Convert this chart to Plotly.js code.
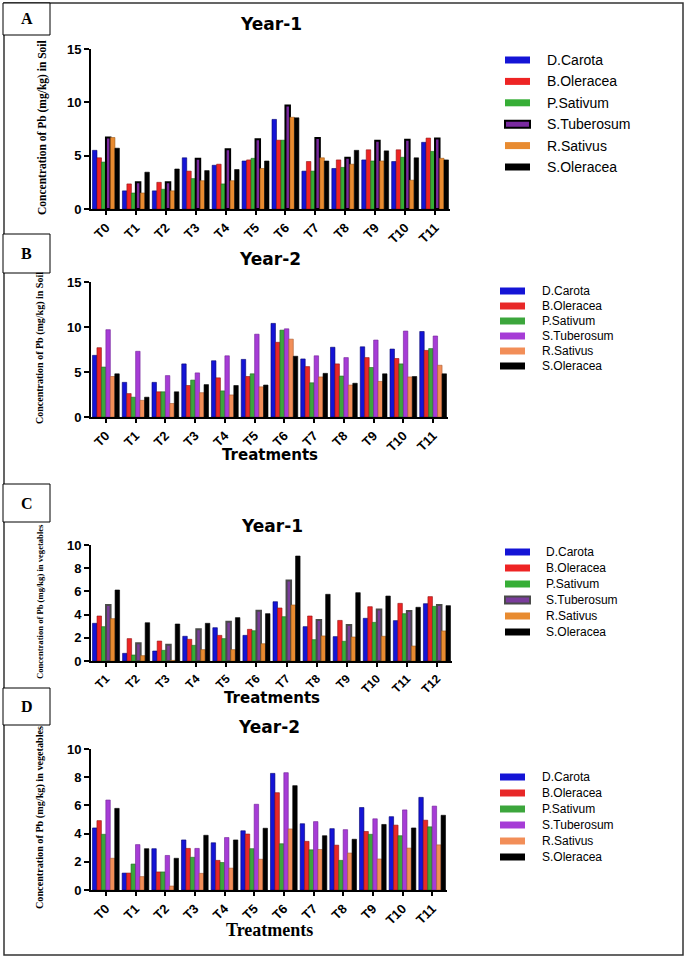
<!DOCTYPE html>
<html>
<head>
<meta charset="utf-8">
<script src="https://cdn.plot.ly/plotly-3.0.1.min.js"></script>
<style>
  html, body { margin: 0; padding: 0; background: #fff; }
  #chart { width: 685px; height: 957px; }
</style>
</head>
<body>
<div id="chart"></div>
<script>
// treatment labels
var treatmentsT0 = ["T0", "T1", "T2", "T3", "T4", "T5", "T6", "T7", "T8", "T9", "T10", "T11"]
var treatmentsT1 = ["T1", "T2", "T3", "T4", "T5", "T6", "T7", "T8", "T9", "T10", "T11", "T12"]

var speciesNames = ["D.Carota", "B.Oleracea", "P.Sativum", "S.Tuberosum", "R.Sativus", "S.Oleracea"]

// A - soil, year 1 (mg/kg)
var soil1Carota     = [5.5, 1.7, 1.7, 4.8, 4.1, 4.5, 8.4, 3.55, 3.8, 4.6, 4.45, 6.25]
var soil1Oleracea   = [4.8, 2.35, 2.5, 3.55, 4.2, 4.6, 6.45, 4.45, 4.6, 5.55, 5.55, 6.65]
var soil1Sativum    = [4.4, 1.5, 1.85, 2.85, 2.35, 4.75, 6.45, 3.55, 3.9, 4.5, 4.85, 5.4]
var soil1Tuberosum  = [6.7, 2.5, 2.5, 4.7, 5.6, 6.55, 9.7, 6.65, 4.8, 6.4, 6.5, 6.6]
var soil1Sativus    = [6.7, 1.5, 1.7, 2.65, 2.65, 3.8, 8.6, 4.8, 4.2, 4.5, 2.7, 4.75]
var soil1SOleracea  = [5.7, 3.45, 3.75, 3.6, 3.7, 4.5, 8.55, 4.5, 5.5, 5.45, 4.8, 4.6]

// B - soil, year 2
var soil2Carota     = [6.85, 3.85, 3.85, 5.9, 6.25, 6.4, 10.4, 6.45, 7.75, 7.8, 7.55, 9.5]
var soil2Oleracea   = [7.7, 2.6, 2.8, 3.5, 4.35, 4.5, 8.3, 5.6, 5.9, 6.6, 6.5, 7.4]
var soil2Sativum    = [5.55, 2.2, 2.8, 4.1, 2.9, 4.8, 9.65, 3.8, 4.55, 5.5, 5.9, 7.6]
var soil2Tuberosum  = [9.7, 7.3, 4.6, 4.9, 6.8, 9.2, 9.8, 6.8, 6.6, 8.55, 9.55, 9.0]
var soil2Sativus    = [4.5, 1.85, 1.5, 2.7, 2.45, 3.35, 8.65, 4.45, 3.55, 3.95, 4.45, 5.75]
var soil2SOleracea  = [4.8, 2.2, 2.8, 3.6, 3.5, 3.55, 6.75, 4.85, 3.75, 4.8, 4.5, 4.8]

// C - vegetables, year 1
var veg1Carota      = [3.25, 0.66, 0.86, 2.13, 2.87, 2.21, 5.11, 2.96, 2.1, 3.68, 3.48, 4.94]
var veg1Oleracea    = [3.88, 1.93, 1.72, 1.87, 2.21, 2.73, 4.57, 3.88, 3.5, 4.68, 4.97, 5.55]
var veg1Sativum     = [2.96, 0.52, 0.92, 1.35, 1.93, 2.61, 3.82, 1.84, 1.7, 3.33, 4.08, 4.71]
var veg1Tuberosum   = [4.83, 1.52, 1.41, 2.73, 3.39, 4.34, 6.93, 3.53, 3.1, 4.43, 4.31, 4.83]
var veg1Sativus     = [3.65, 0.46, 0.05, 0.98, 0.98, 1.49, 4.83, 2.16, 2.07, 2.13, 1.29, 2.59]
var veg1SOleracea   = [6.12, 3.3, 3.19, 3.25, 3.74, 4.08, 9.05, 5.75, 5.89, 5.6, 4.63, 4.77]

// D - vegetables, year 2
var veg2Carota      = [4.4, 1.2, 2.93, 3.55, 3.35, 4.2, 8.27, 4.7, 4.35, 5.85, 5.2, 6.57]
var veg2Oleracea    = [4.92, 1.2, 1.28, 2.95, 2.1, 3.97, 6.9, 3.45, 3.18, 4.15, 4.6, 4.95]
var veg2Sativum     = [3.95, 1.84, 1.28, 2.32, 1.95, 2.93, 3.28, 2.85, 2.1, 3.95, 3.85, 4.48]
var veg2Tuberosum   = [6.38, 3.22, 2.45, 2.95, 3.72, 6.08, 8.32, 4.85, 4.28, 5.05, 5.68, 5.95]
var veg2Sativus     = [2.25, 0.95, 0.28, 1.18, 1.55, 2.18, 4.33, 2.87, 2.62, 2.2, 2.97, 3.2]
var veg2SOleracea   = [5.79, 2.93, 2.25, 3.88, 3.55, 4.38, 7.4, 3.85, 3.6, 4.65, 4.4, 5.3]

// colours
var fillA = ["#1414d6", "#ee2424", "#36ae36", "#7a2aa0", "#e88b30", "#000000"]
var edgeA = ["#00006e", "#8e1010", "#1b661b", "#000000", "#9a5818", "#000000"]
var fillC = ["#1414d6", "#ee2424", "#36ae36", "#7a3c9c", "#e88b30", "#000000"]
var edgeC = ["#00006e", "#8e1010", "#1b661b", "#4a4a4a", "#9a5818", "#000000"]
var fillY2 = ["#1414d6", "#e82828", "#3ca63c", "#a63cd6", "#f28e58", "#000000"]
var edgeY2 = ["#00006e", "#8e1010", "#1b661b", "#6e2096", "#a85a30", "#000000"]

var W = 685, H = 957
function px(x) { return x / W }
function py(y) { return 1 - y / H }

var SANS = "DejaVu Sans, Arial, sans-serif"
var ARIAL = "Liberation Sans, Arial, sans-serif"
var SERIF = "Liberation Serif, Times New Roman, serif"

var panels = [
  {letter: "A", box: [3, 50, 3, 35], title: "Year-1", titleY: 24,
   cats: treatmentsT0, ymax: 15, dtick: 5, xr: [91, 450], yr: [49, 209],
   series: [soil1Carota, soil1Oleracea, soil1Sativum, soil1Tuberosum, soil1Sativus, soil1SOleracea],
   fill: fillA, edge: edgeA, tubW: 2, xTick: 13,
   yTitle: "Concentration of Pb (mg/kg) in Soil", yTitleX: 43, yTitleY: 128, yTitleSize: 11.5,
   xTitle: null,
   legend: {swatch: [505, 530], textX: 545, top: 60, step: 21.4, size: 14}},
  {letter: "B", box: [3, 50, 234, 273], title: "Year-2", titleY: 259,
   cats: treatmentsT0, ymax: 15, dtick: 5, xr: [91, 448], yr: [282, 417],
   series: [soil2Carota, soil2Oleracea, soil2Sativum, soil2Tuberosum, soil2Sativus, soil2SOleracea],
   fill: fillY2, edge: edgeY2, tubW: 0.6, xTick: 13,
   yTitle: "Concentration of Pb (mg/kg) in Soil", yTitleX: 40, yTitleY: 348, yTitleSize: 10,
   xTitle: "Treatments", xTitleY: 455, xTitleFont: SANS, xTitleSize: 15,
   legend: {swatch: [500, 525], textX: 540, top: 291, step: 15, size: 12}},
  {letter: "C", box: [3, 50, 484, 522], title: "Year-1", titleY: 526,
   cats: treatmentsT1, ymax: 10, dtick: 2, xr: [91, 452], yr: [545, 661],
   series: [veg1Carota, veg1Oleracea, veg1Sativum, veg1Tuberosum, veg1Sativus, veg1SOleracea],
   fill: fillC, edge: edgeC, tubW: 2, xTick: 12,
   yTitle: "Concentration of Pb (mg/kg) in vegetables", yTitleX: 40, yTitleY: 602, yTitleSize: 8.6,
   xTitle: "Treatments", xTitleY: 698, xTitleFont: SANS, xTitleSize: 15,
   legend: {swatch: [505, 530], textX: 544, top: 552, step: 16, size: 12}},
  {letter: "D", box: [3, 50, 688, 725], title: "Year-2", titleY: 727,
   cats: treatmentsT0, ymax: 10, dtick: 2, xr: [91, 447], yr: [749, 890],
   series: [veg2Carota, veg2Oleracea, veg2Sativum, veg2Tuberosum, veg2Sativus, veg2SOleracea],
   fill: fillY2, edge: edgeY2, tubW: 0.6, xTick: 13,
   yTitle: "Concentration of Pb (mg/kg) in vegetables", yTitleX: 40, yTitleY: 818, yTitleSize: 10.2,
   xTitle: "Treatments", xTitleY: 930, xTitleFont: SERIF, xTitleSize: 18,
   legend: {swatch: [500, 525], textX: 540, top: 777, step: 16, size: 12}}
]

var data = []
var layout = {
  width: W, height: H,
  margin: {l: 0, r: 0, t: 0, b: 0},
  paper_bgcolor: "#ffffff",
  plot_bgcolor: "rgba(0,0,0,0)",
  barmode: "group",
  bargap: 0.1,
  bargroupgap: 0,
  showlegend: false,
  font: {family: SANS, color: "#000"},
  annotations: [],
  shapes: [
    {type: "rect", xref: "paper", yref: "paper", x0: px(4), x1: px(683), y0: py(955), y1: py(3),
     line: {color: "#333", width: 1.5}}
  ]
}

panels.forEach(function(p, i) {
  var n = i === 0 ? "" : String(i + 1)

  for (var s = 0; s < speciesNames.length; s++) {
    var lw = s === 3 ? p.tubW : 0.6
    data.push({
      type: "bar",
      name: speciesNames[s],
      x: p.cats,
      y: p.series[s],
      xaxis: "x" + n,
      yaxis: "y" + n,
      marker: {color: p.fill[s], line: {color: p.edge[s], width: lw}}
    })

    // legend entry (swatch + name)
    var rowY = p.legend.top + s * p.legend.step
    var boxed = s === 3 && p.tubW > 1
    layout.shapes.push({type: "rect", xref: "paper", yref: "paper",
      x0: px(p.legend.swatch[0]), x1: px(p.legend.swatch[1]),
      y0: py(rowY + 3.5), y1: py(rowY - 3.5),
      fillcolor: p.fill[s],
      line: {color: boxed ? p.edge[s] : p.fill[s], width: boxed ? 2 : 0}})
    layout.annotations.push({xref: "paper", yref: "paper", showarrow: false,
      x: px(p.legend.textX), y: py(rowY), xanchor: "left", yanchor: "middle",
      text: speciesNames[s],
      font: {family: ARIAL, size: p.legend.size, color: "#000"}})
  }

  layout["xaxis" + n] = {
    type: "category",
    domain: [px(p.xr[0]), px(p.xr[1])],
    anchor: "y" + n,
    range: [-0.5, p.cats.length - 0.5],
    showline: true, linecolor: "#000", linewidth: 2,
    ticks: "outside", ticklen: 4, tickwidth: 2, tickcolor: "#000",
    tickangle: -45,
    tickfont: {family: ARIAL, size: p.xTick, weight: "bold", color: "#000"},
    showgrid: false, zeroline: false, fixedrange: true
  }
  layout["yaxis" + n] = {
    domain: [py(p.yr[1]), py(p.yr[0])],
    anchor: "x" + n,
    range: [0, p.ymax],
    dtick: p.dtick,
    showline: true, linecolor: "#000", linewidth: 2,
    ticks: "outside", ticklen: 5, tickwidth: 2, tickcolor: "#000",
    tickfont: {family: ARIAL, size: 13, weight: "bold", color: "#000"},
    showgrid: false, zeroline: false, fixedrange: true
  }

  // panel letter box
  layout.shapes.push({type: "rect", xref: "paper", yref: "paper",
    x0: px(p.box[0]), x1: px(p.box[1]), y0: py(p.box[3]), y1: py(p.box[2]),
    line: {color: "#000", width: 1}, fillcolor: "#fff"})
  layout.annotations.push({xref: "paper", yref: "paper", showarrow: false,
    x: px((p.box[0] + p.box[1]) / 2), y: py((p.box[2] + p.box[3]) / 2),
    xanchor: "center", yanchor: "middle", text: p.letter,
    font: {family: SERIF, size: 16, weight: "bold", color: "#000"}})

  // title
  layout.annotations.push({xref: "paper", yref: "paper", showarrow: false,
    x: px((p.xr[0] + p.xr[1]) / 2), y: py(p.titleY),
    xanchor: "center", yanchor: "middle", text: p.title,
    font: {family: SANS, size: 17, weight: "bold", color: "#000"}})

  // y axis title
  layout.annotations.push({xref: "paper", yref: "paper", showarrow: false,
    x: px(p.yTitleX), y: py(p.yTitleY), textangle: -90,
    xanchor: "center", yanchor: "middle", text: p.yTitle,
    font: {family: SERIF, size: p.yTitleSize, weight: "bold", color: "#000"}})

  if (p.xTitle) {
    layout.annotations.push({xref: "paper", yref: "paper", showarrow: false,
      x: px((p.xr[0] + p.xr[1]) / 2), y: py(p.xTitleY),
      xanchor: "center", yanchor: "middle", text: p.xTitle,
      font: {family: p.xTitleFont, size: p.xTitleSize, weight: "bold", color: "#000"}})
  }
})

Plotly.newPlot("chart", data, layout, {displayModeBar: false, staticPlot: true})
</script>
</body>
</html>
